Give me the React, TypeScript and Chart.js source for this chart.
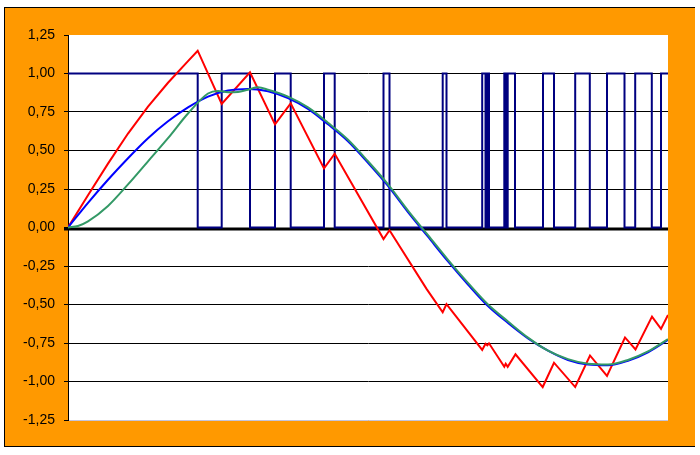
import React, { useEffect, useRef } from "react";
import { Chart, registerables } from "chart.js";

Chart.register(...registerables);

// y axis ticks
const yTicks = [-1.25, -1, -0.75, -0.5, -0.25, 0, 0.25, 0.5, 0.75, 1, 1.25];
const yTickLabels = ["-1,25", "-1,00", "-0,75", "-0,50", "-0,25", "0,00", "0,25", "0,50", "0,75", "1,00", "1,25"];

// square (pulse) wave: start level and edges
const squareStartLevel = 1;
const squareEdgeT = [129.7, 153.7, 182, 207, 222.7, 256, 266.7, 315.5, 321.5, 374.7, 378.5, 414.2, 417.5, 419.3, 421, 436.3, 437.7, 439.7, 447, 475, 486, 507.2, 521.8, 539, 556.5, 567.2, 583.8, 593];
const squareEdgeLevel = [0, 1, 0, 1, 0, 1, 0, 1, 0, 1, 0, 1, 0, 1, 0, 1, 0, 1, 0, 1, 0, 1, 0, 1, 0, 1, 0, 1];
const tEnd = 600;

// red zigzag (integrator)
const redT = [0, 20, 40, 60, 80, 100, 120, 129.7, 153.7, 182, 207, 222.7, 256, 266.7, 315.5, 321.5, 358.7, 374.7, 378.5, 414.2, 417.5, 419.3, 421, 436.3, 437.7, 439.7, 447.5, 474.7, 486, 507.2, 522, 539, 557, 567.5, 584, 593, 600];
const redV = [0, 0.21, 0.415, 0.61, 0.785, 0.94, 1.08, 1.148, 0.802, 1.008, 0.67, 0.806, 0.384, 0.479, -0.075, -0.018, -0.4, -0.55, -0.497, -0.795, -0.755, -0.765, -0.752, -0.904, -0.885, -0.905, -0.823, -1.036, -0.878, -1.036, -0.831, -0.963, -0.714, -0.792, -0.579, -0.658, -0.568];

// blue smooth curve
const blueT = [0, 20, 40, 60, 80, 100, 120, 140, 160, 180, 200, 220, 240, 260, 280, 300, 320, 340, 360, 380, 400, 420, 440, 460, 480, 500, 520, 540, 560, 580, 600];
const blueV = [0, 0.16, 0.31, 0.45, 0.58, 0.69, 0.78, 0.85, 0.89, 0.9, 0.885, 0.84, 0.77, 0.67, 0.56, 0.42, 0.27, 0.1, -0.06, -0.22, -0.37, -0.51, -0.62, -0.72, -0.8, -0.86, -0.89, -0.895, -0.865, -0.81, -0.73];

// green smooth curve
const greenT = [0, 10, 20, 40, 60, 80, 100, 120, 140, 150, 160, 170, 180, 190, 200, 220, 240, 260, 280, 300, 320, 340, 360, 380, 400, 420, 440, 460, 480, 500, 520, 540, 560, 580, 600];
const greenV = [0, 0.01, 0.04, 0.14, 0.28, 0.43, 0.58, 0.74, 0.87, 0.887, 0.878, 0.88, 0.895, 0.91, 0.895, 0.85, 0.78, 0.68, 0.57, 0.43, 0.28, 0.11, -0.05, -0.21, -0.36, -0.5, -0.61, -0.715, -0.8, -0.855, -0.885, -0.89, -0.86, -0.805, -0.725];

function buildSquare() {
  const pts: { x: number; y: number }[] = [{ x: 0, y: squareStartLevel }];
  let level = squareStartLevel;
  squareEdgeT.forEach((t, i) => {
    pts.push({ x: t, y: level });
    level = squareEdgeLevel[i];
    pts.push({ x: t, y: level });
  });
  pts.push({ x: tEnd, y: level });
  return pts;
}

const zip = (t: number[], v: number[]) => t.map((x, i) => ({ x, y: v[i] }));

const bgPlugin = {
  id: "bg",
  beforeDraw(chart: any) {
    const { ctx, chartArea: a } = chart;
    ctx.save();
    ctx.fillStyle = "#ffffff";
    ctx.fillRect(0, 0, chart.width, chart.height);
    ctx.fillStyle = "#000000";
    ctx.fillRect(4, 7, 691, 440);
    ctx.fillStyle = "#FF9900";
    ctx.fillRect(5, 8, 690, 438);
    ctx.fillStyle = "#ffffff";
    ctx.fillRect(a.left, a.top, a.right - a.left, a.bottom - a.top);
    ctx.restore();
  },
  beforeDatasetsDraw(chart: any) {
    const { ctx, chartArea: a } = chart;
    const y0 = chart.scales.y.getPixelForValue(0);
    ctx.save();
    ctx.fillStyle = "#000000";
    ctx.fillRect(a.left - 4, Math.round(y0) - 0.5, a.right - a.left + 4, 3);
    ctx.restore();
  },
};

export default function App() {
  const ref = useRef<HTMLCanvasElement | null>(null);
  useEffect(() => {
    document.body.style.margin = "0";
    const canvas = ref.current!;
    const chart = new Chart(canvas, {
      type: "line",
      data: {
        datasets: [
          { data: zip(greenT, greenV), borderColor: "#339966", borderWidth: 2, pointRadius: 0, cubicInterpolationMode: "monotone", order: 0 } as any,
          { data: zip(blueT, blueV), borderColor: "#0000FF", borderWidth: 2, pointRadius: 0, cubicInterpolationMode: "monotone", order: 1 } as any,
          { data: zip(redT, redV), borderColor: "#FF0000", borderWidth: 2, pointRadius: 0, tension: 0, order: 2 } as any,
          { data: buildSquare(), borderColor: "#000080", borderWidth: 2, pointRadius: 0, tension: 0, order: 3 } as any,
        ],
      },
      options: {
        animation: false,
        responsive: false,
        maintainAspectRatio: false,
        layout: { padding: { left: 0, top: 35, right: 32, bottom: 35 } },
        plugins: { legend: { display: false }, tooltip: { enabled: false } },
        scales: {
          x: { type: "linear", min: 0, max: tEnd, display: false },
          y: {
            type: "linear",
            min: -1.25,
            max: 1.25,
            afterFit: (s: any) => { s.width = 68; },
            afterBuildTicks: (s: any) => { s.ticks = yTicks.map((v) => ({ value: v })); },
            border: { display: true, color: "#000000", width: 1 },
            grid: {
              color: (c: any) => {
                const v = c.tick ? c.tick.value : null;
                if (v === 0 || v === 1.25) return "rgba(0,0,0,0)";
                if (v === -1.25) return "#c4c4dc";
                return "#000000";
              },
              lineWidth: 1,
              drawTicks: true,
              tickLength: 4,
              tickColor: "#000000",
              tickWidth: 1,
            },
            ticks: {
              color: "#000000",
              padding: 9,
              font: { family: "'Liberation Sans', Arial, sans-serif", size: 14 },
              callback: (_v: any, i: number) => yTickLabels[i],
            },
          },
        },
      },
      plugins: [bgPlugin],
    } as any);
    return () => chart.destroy();
  }, []);
  return <canvas ref={ref} width={700} height={455} style={{ display: "block" }} />;
}
